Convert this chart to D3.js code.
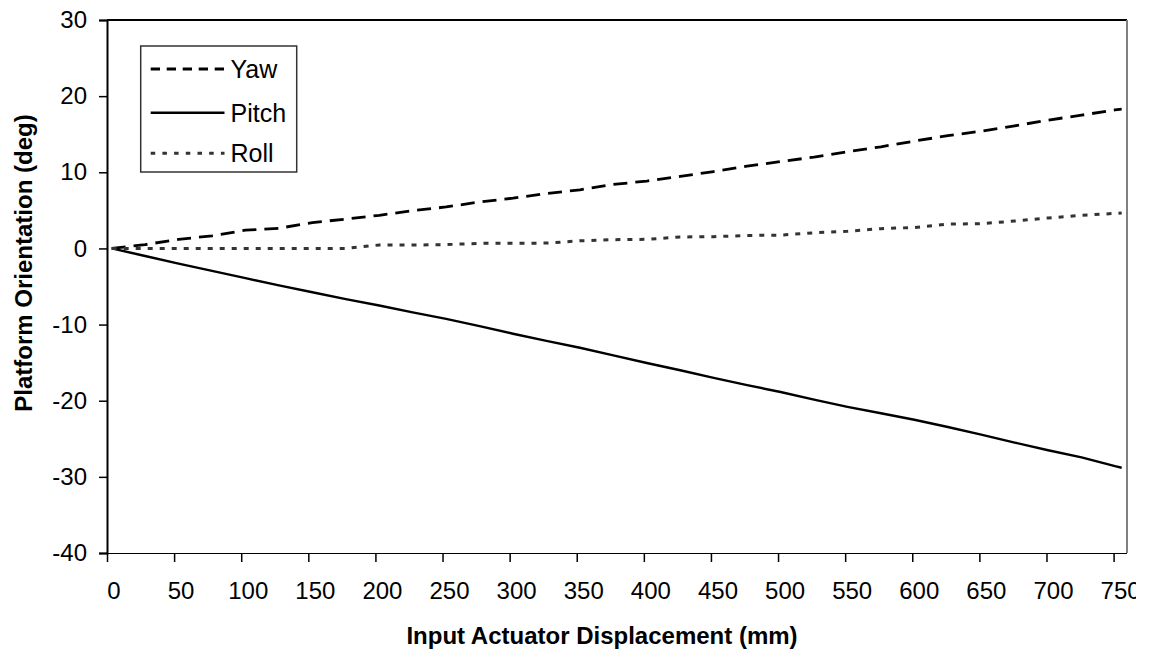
<!DOCTYPE html>
<html>
<head>
<meta charset="utf-8">
<script src="https://cdn.jsdelivr.net/npm/d3@7"></script>
<style>
  html, body { margin: 0; padding: 0; background: #fff; }
  svg { display: block; font-family: "Liberation Sans", Arial, sans-serif; }
</style>
</head>
<body>
<svg id="chart" width="1149" height="654"></svg>
<script>
// ---- data ----
const displacement = [0, 25, 50, 75, 100, 125, 150, 175, 200, 225, 250, 275, 300, 325, 350, 375, 400, 425, 450, 475, 500, 525, 550, 575, 600, 625, 650, 675, 700, 725, 750, 755];
const yawValues   = [0, 0.5, 1.2, 1.65, 2.4, 2.65, 3.4, 3.85, 4.35, 4.95, 5.45, 6.1, 6.6, 7.2, 7.7, 8.4, 8.85, 9.45, 10.1, 10.8, 11.4, 12.0, 12.7, 13.35, 14.1, 14.8, 15.4, 16.1, 16.85, 17.5, 18.2, 18.3];
const pitchValues = [0, -1.0, -2.0, -2.95, -3.9, -4.85, -5.75, -6.65, -7.5, -8.4, -9.25, -10.2, -11.2, -12.15, -13.05, -14.05, -15.05, -16.0, -17.0, -17.95, -18.85, -19.85, -20.8, -21.65, -22.5, -23.45, -24.45, -25.5, -26.5, -27.45, -28.6, -28.8];
const rollValues  = [0, 0, 0, 0, 0, 0, 0, 0, 0.45, 0.45, 0.5, 0.67, 0.67, 0.7, 1.0, 1.15, 1.2, 1.5, 1.55, 1.7, 1.75, 2.05, 2.25, 2.6, 2.75, 3.2, 3.25, 3.6, 4.0, 4.35, 4.6, 4.65];
const seriesNames = ["Yaw", "Pitch", "Roll"];
const xTickValues = [0, 50, 100, 150, 200, 250, 300, 350, 400, 450, 500, 550, 600, 650, 700, 750];
const yTickValues = [-40, -30, -20, -10, 0, 10, 20, 30];
const xTitle = "Input Actuator Displacement (mm)";
const yTitle = "Platform Orientation (deg)";

const svg = d3.select("#chart");
const plot = { left: 107, right: 1127, top: 20, bottom: 553 };

// axis scale (category boundaries) and data scale
const xAxisScale = d3.scaleLinear().domain([0, 760]).range([plot.left, plot.right]);
const xData = d3.scaleLinear().domain([0, 755]).range([111.7, 1121.7]);
const y = d3.scaleLinear().domain([-40, 30]).range([plot.bottom, plot.top]);

// plot area border (top + right)
svg.append("line").attr("x1", plot.left).attr("x2", plot.right).attr("y1", plot.top).attr("y2", plot.top)
  .attr("stroke", "#000").attr("stroke-width", 2);
svg.append("line").attr("x1", plot.right).attr("x2", plot.right).attr("y1", plot.top).attr("y2", plot.bottom)
  .attr("stroke", "#808080").attr("stroke-width", 2);

// y axis
const yAxis = svg.append("g").attr("transform", `translate(${plot.left},0)`)
  .call(d3.axisLeft(y).tickValues(yTickValues).tickSize(8).tickPadding(12).tickFormat(d3.format("d")));
yAxis.select(".domain").attr("stroke", "#000").attr("stroke-width", 2);
yAxis.selectAll(".tick line").attr("stroke", "#000").attr("stroke-width", 1.5);
yAxis.selectAll(".tick text").attr("font-size", 24).attr("fill", "#000")
  .attr("font-family", "'Liberation Sans', Arial, sans-serif").text(d => d < 0 ? "-" + Math.abs(d) : d);

// x axis
svg.append("defs").append("clipPath").attr("id", "xclip")
  .append("rect").attr("x", 0).attr("y", 0).attr("width", 1136).attr("height", 654);
const xAxis = svg.append("g").attr("transform", `translate(0,${plot.bottom})`)
  .call(d3.axisBottom(xAxisScale).tickValues(xTickValues).tickSize(9).tickSizeOuter(0).tickPadding(19.5).tickFormat(d3.format("d")));
xAxis.select(".domain").attr("stroke", "#000").attr("stroke-width", 2)
  .attr("d", `M${plot.left},0H${plot.right}`);
xAxis.selectAll(".tick line").attr("stroke", "#000").attr("stroke-width", 1.5);
xAxis.selectAll(".tick text").attr("font-size", 24).attr("fill", "#000")
  .attr("font-family", "'Liberation Sans', Arial, sans-serif")
  .attr("x", 6.5);
xAxis.attr("clip-path", "url(#xclip)");

// axis titles
svg.append("text").attr("x", 602).attr("y", 644).attr("text-anchor", "middle")
  .attr("font-size", 24).attr("font-weight", "bold").text(xTitle);
svg.append("text").attr("transform", "translate(32,263) rotate(-90)").attr("text-anchor", "middle")
  .attr("font-size", 24).attr("font-weight", "bold").text(yTitle);

// lines
const seriesData = [
  { name: seriesNames[0], values: yawValues, stroke: "#000", width: 2.8, dash: "14,8", legendDash: "9.3,6.7" },
  { name: seriesNames[1], values: pitchValues, stroke: "#000", width: 2.4, dash: null, legendDash: null },
  { name: seriesNames[2], values: rollValues, stroke: "#333", width: 3, dash: "5,7", legendDash: "4.5,7.2" }
];
const line = d3.line().x(d => xData(d[0])).y(d => y(d[1]));
seriesData.forEach(s => {
  svg.append("path")
    .datum(displacement.map((dx, i) => [dx, s.values[i]]))
    .attr("d", line).attr("fill", "none").attr("stroke", s.stroke)
    .attr("stroke-width", s.width).attr("stroke-dasharray", s.dash)
    .attr("stroke-linejoin", "round");
});

// legend
const legend = svg.append("g");
legend.append("rect").attr("x", 140.7).attr("y", 46).attr("width", 156).attr("height", 126)
  .attr("fill", "#fff").attr("stroke", "#333").attr("stroke-width", 1.5);
const legendRows = [69, 112.7, 153.3];
seriesData.forEach((s, i) => {
  legend.append("line").attr("x1", 150.7).attr("x2", 224.5)
    .attr("y1", legendRows[i]).attr("y2", legendRows[i])
    .attr("stroke", s.stroke).attr("stroke-width", s.width).attr("stroke-dasharray", s.legendDash);
  legend.append("text").attr("x", 230.5).attr("y", legendRows[i] + 8.8)
    .attr("font-size", 25).attr("fill", "#000").text(s.name);
});
</script>
</body>
</html>
